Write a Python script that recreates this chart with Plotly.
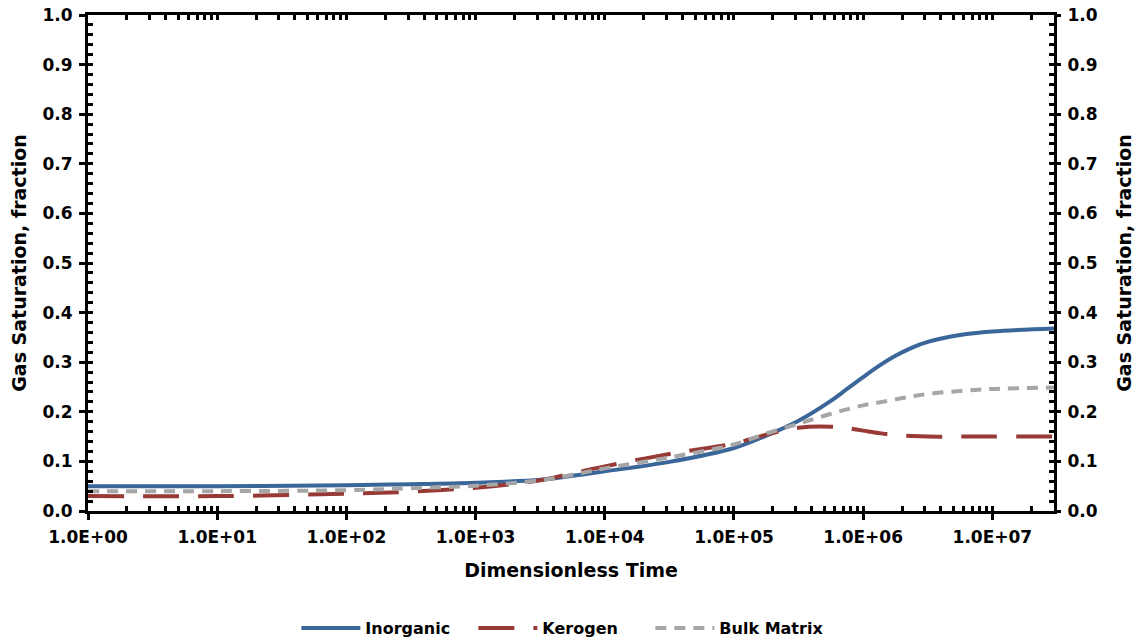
import math
import plotly.graph_objects as go

# Dimensionless time (log scale) and gas saturation for each medium
time_d = [1, 10, 100, 316, 1000, 3162, 5623, 10000, 31623, 100000, 177828,
          316228, 562341, 749894, 1000000, 1333521, 1778279, 2371374, 3162278,
          5623413, 10000000, 30000000]

inorganic = [0.050, 0.050, 0.052, 0.054, 0.057, 0.063, 0.071, 0.080, 0.099, 0.127, 0.152,
             0.182, 0.222, 0.246, 0.270, 0.293, 0.313, 0.329, 0.341,
             0.355, 0.362, 0.368]
kerogen = [0.030, 0.030, 0.035, 0.039, 0.047, 0.062, 0.076, 0.090, 0.115, 0.136, 0.154,
           0.168, 0.170, 0.167, 0.162, 0.157, 0.153, 0.151, 0.150,
           0.150, 0.150, 0.150]
bulk_matrix = [0.040, 0.040, 0.042, 0.046, 0.051, 0.062, 0.073, 0.086, 0.108, 0.134, 0.156,
               0.176, 0.196, 0.205, 0.213, 0.219, 0.225, 0.231, 0.236,
               0.242, 0.246, 0.249]

x_major = [1, 10, 100, 1000, 10000, 100000, 1000000, 10000000]
x_labels = ["1.0E+00", "1.0E+01", "1.0E+02", "1.0E+03", "1.0E+04",
            "1.0E+05", "1.0E+06", "1.0E+07"]
y_major = [0.0, 0.1, 0.2, 0.3, 0.4, 0.5, 0.6, 0.7, 0.8, 0.9, 1.0]
y_labels = ["0.0", "0.1", "0.2", "0.3", "0.4", "0.5", "0.6", "0.7", "0.8", "0.9", "1.0"]

X_MAX = 30000000

FONT = "DejaVu Sans"
BLUE = "#3A6699"
RED = "#973935"
GRAY = "#A6A6A6"

# all x tick positions (decades + intermediate values) for the inner ticks
x_all = []
for d in x_major:
    for m in range(1, 10):
        v = d * m
        if v <= X_MAX:
            x_all.append(v)
y_all = [i / 50 for i in range(51)]

fig = go.Figure()
fig.add_trace(go.Scatter(x=time_d, y=inorganic, name="Inorganic", mode="lines",
                         line=dict(color=BLUE, width=4, shape="spline", smoothing=1.0)))
fig.add_trace(go.Scatter(x=time_d, y=kerogen, name="Kerogen", mode="lines",
                         line=dict(color=RED, width=4, dash="36px,19px",
                                   shape="spline", smoothing=1.0)))
fig.add_trace(go.Scatter(x=time_d, y=bulk_matrix, name="Bulk Matrix", mode="lines",
                         line=dict(color=GRAY, width=4, dash="11px,8px",
                                   shape="spline", smoothing=1.0)))
# empty traces that attach the tick-only overlay axes
fig.add_trace(go.Scatter(x=[], y=[], xaxis="x2", yaxis="y2", showlegend=False, hoverinfo="skip"))
fig.add_trace(go.Scatter(x=[], y=[], xaxis="x", yaxis="y3", showlegend=False, hoverinfo="skip"))

xr = [0, math.log10(X_MAX)]
tick_font = dict(family=FONT, size=17, color="black", weight="bold")
title_font = dict(family=FONT, size=19, color="black", weight="bold")

fig.update_layout(
    width=1142, height=641,
    margin=dict(l=88, r=88, t=15, b=130, autoexpand=False),
    paper_bgcolor="white", plot_bgcolor="white",
    font=dict(family=FONT, color="black"),
    xaxis=dict(type="log", range=xr, tickmode="array", tickvals=x_major, ticktext=x_labels,
               ticks="outside", ticklen=6, tickwidth=2.5, tickcolor="black",
               showline=True, linewidth=3, linecolor="black", mirror=True,
               showgrid=False, zeroline=False, tickfont=tick_font, automargin=False,
               ticklabelstandoff=3,
               title=dict(text="Dimensionless Time", font=title_font, standoff=18)),
    xaxis2=dict(type="log", range=xr, overlaying="x", anchor="y2", side="bottom",
                tickmode="array", tickvals=x_all, ticks="inside", ticklen=5, tickwidth=2.5,
                tickcolor="black", mirror="allticks", showticklabels=False,
                showline=False, showgrid=False, zeroline=False, automargin=False),
    yaxis=dict(range=[0, 1], tickmode="array", tickvals=y_major, ticktext=y_labels,
               ticks="outside", ticklen=6, tickwidth=2.5, tickcolor="black",
               showline=True, linewidth=3, linecolor="black", mirror=True,
               showgrid=False, zeroline=False, tickfont=tick_font, automargin=False,
               ticklabelstandoff=3,
               title=dict(text="Gas Saturation, fraction", font=title_font, standoff=11)),
    yaxis2=dict(range=[0, 1], overlaying="y", anchor="x2", side="left",
                tickmode="array", tickvals=y_all, ticks="inside", ticklen=5, tickwidth=2.5,
                tickcolor="black", mirror="allticks", showticklabels=False,
                showline=False, showgrid=False, zeroline=False, automargin=False),
    yaxis3=dict(range=[0, 1], overlaying="y", anchor="x", side="right",
                tickmode="array", tickvals=y_major, ticktext=y_labels,
                ticks="outside", ticklen=6, tickwidth=2.5, tickcolor="black",
                showline=False, showgrid=False, zeroline=False, tickfont=tick_font,
                automargin=False, ticklabelstandoff=3,
                title=dict(text="Gas Saturation, fraction", font=title_font, standoff=21)),
    legend=dict(orientation="h", x=0.492, xanchor="center", xref="container",
                y=13 / 641, yanchor="middle", yref="container",
                font=dict(family=FONT, size=16, color="black", weight="bold"), itemwidth=59,
                entrywidth=103, entrywidthmode="pixels",
                bgcolor="rgba(0,0,0,0)"),
    showlegend=True,
)

fig.write_html("out.html")
